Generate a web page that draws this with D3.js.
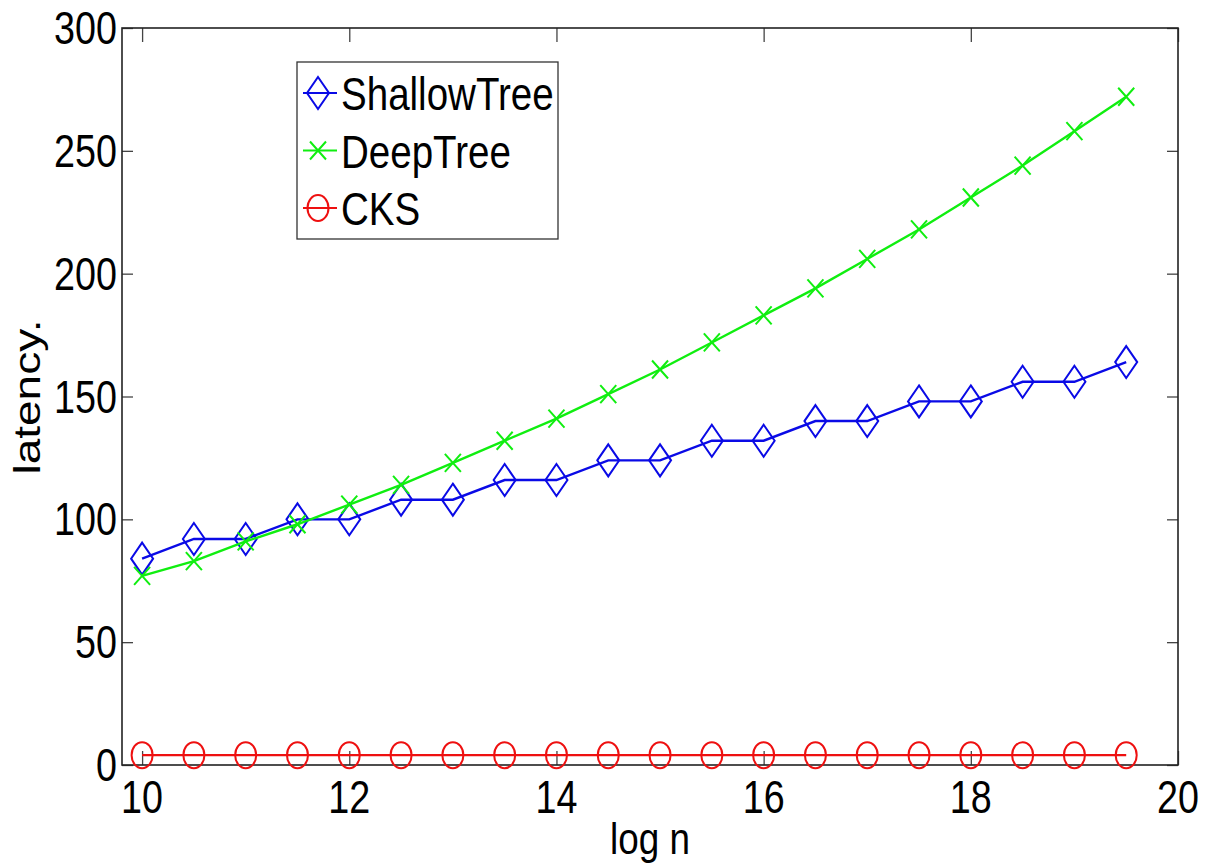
<!DOCTYPE html>
<html>
<head>
<meta charset="utf-8">
<script src="https://cdn.jsdelivr.net/npm/d3@7"></script>
<style>
  html, body { margin: 0; padding: 0; background: #fff; }
  svg { display: block; }
  text { font-family: "Liberation Sans", Arial, Helvetica, sans-serif; fill: #000; }
</style>
</head>
<body>
<svg id="chart" width="1210" height="866"></svg>
<script>
// ---- data ----
const logN = [10, 10.5, 11, 11.5, 12, 12.5, 13, 13.5, 14, 14.5, 15, 15.5, 16, 16.5, 17, 17.5, 18, 18.5, 19, 19.5];
const shallowTree = [84, 92, 92, 100, 100, 108, 108, 116, 116, 124, 124, 132, 132, 140, 140, 148, 148, 156, 156, 164];
const deepTree = [77, 83, 91, 98, 106, 114, 123, 132, 141, 151, 161, 172, 183, 194, 206, 218, 231, 244, 258, 272];
const cks = [4, 4, 4, 4, 4, 4, 4, 4, 4, 4, 4, 4, 4, 4, 4, 4, 4, 4, 4, 4];
const xTicks = [10, 12, 14, 16, 18, 20];
const yTicks = [0, 50, 100, 150, 200, 250, 300];
const seriesNames = ["ShallowTree", "DeepTree", "CKS"];
const seriesColors = ["#0a0ae6", "#10ee10", "#ee1010"];
const seriesMarkers = ["diamond", "x", "circle"];
const xLabel = "log n";
const yLabel = "latency.";

// ---- layout ----
const L = 122, R = 1178, T = 28, B = 765;
const FS = 46, SX = 0.82;
const svg = d3.select("#chart");
const x = d3.scaleLinear().domain([9.806, 20]).range([L, R]);
const y = d3.scaleLinear().domain([0, 300]).range([B, T]);

const series = [shallowTree, deepTree, cks].map((vals, i) => ({
  name: seriesNames[i], color: seriesColors[i], marker: seriesMarkers[i],
  points: logN.map((v, j) => ({ x: v, y: vals[j] }))
}));

// axes box with inward ticks
const axisColor = "#222";
const gx = svg.append("g").attr("transform", `translate(0,${B})`)
  .call(d3.axisBottom(x).tickValues(xTicks).tickSize(-14).tickFormat(""));
const gxt = svg.append("g").attr("transform", `translate(0,${T})`)
  .call(d3.axisTop(x).tickValues(xTicks).tickSize(-14).tickFormat(""));
const gy = svg.append("g").attr("transform", `translate(${L},0)`)
  .call(d3.axisLeft(y).tickValues(yTicks).tickSize(-11).tickFormat(""));
const gyr = svg.append("g").attr("transform", `translate(${R},0)`)
  .call(d3.axisRight(y).tickValues(yTicks).tickSize(-11).tickFormat(""));
[gx, gxt, gy, gyr].forEach(g => {
  g.select(".domain").remove();
  g.selectAll(".tick line").attr("stroke", "#444").attr("stroke-width", 1.3);
});
svg.append("rect").attr("x", L).attr("y", T).attr("width", R - L).attr("height", B - T)
  .attr("fill", "none").attr("stroke", axisColor).attr("stroke-width", 1.6);

// tick labels
xTicks.forEach(t => {
  svg.append("text").attr("transform", `translate(${x(t)},813) scale(${SX},1)`)
    .attr("text-anchor", "middle").attr("font-size", FS).text(t);
});
yTicks.forEach(t => {
  svg.append("text").attr("transform", `translate(117,${y(t) + 16}) scale(${SX},1)`)
    .attr("text-anchor", "end").attr("font-size", FS).text(t);
});

// axis labels
svg.append("text").attr("transform", `translate(${(L + R) / 2},854) scale(${SX},1)`)
  .attr("text-anchor", "middle").attr("font-size", 45).text(xLabel);
svg.append("text").attr("transform", `translate(40,397) scale(${SX},1) rotate(-90)`)
  .attr("text-anchor", "middle").attr("font-size", FS).text(yLabel);

// markers
function drawMarker(g, type, cx, cy, color, big) {
  if (type === "diamond") {
    const hw = 11, hh = 16;
    g.append("path").attr("d", `M${cx},${cy - hh}L${cx + hw},${cy}L${cx},${cy + hh}L${cx - hw},${cy}Z`)
      .attr("fill", "none").attr("stroke", color).attr("stroke-width", 2);
  } else if (type === "x") {
    const hw = 8, hh = 9;
    g.append("path").attr("d", `M${cx - hw},${cy - hh}L${cx + hw},${cy + hh}M${cx - hw},${cy + hh}L${cx + hw},${cy - hh}`)
      .attr("fill", "none").attr("stroke", color).attr("stroke-width", 2);
  } else {
    g.append("ellipse").attr("cx", cx).attr("cy", cy).attr("rx", 10.5).attr("ry", 13)
      .attr("fill", "none").attr("stroke", color).attr("stroke-width", 2);
  }
}

const line = d3.line().x(d => x(d.x)).y(d => y(d.y));
series.forEach(s => {
  const g = svg.append("g");
  g.append("path").datum(s.points).attr("d", line)
    .attr("fill", "none").attr("stroke", s.color).attr("stroke-width", 2.4);
  s.points.forEach(p => drawMarker(g, s.marker, x(p.x), y(p.y), s.color));
});

// legend
const lg = svg.append("g");
lg.append("rect").attr("x", 297).attr("y", 62).attr("width", 261).attr("height", 177)
  .attr("fill", "#fff").attr("stroke", "#333").attr("stroke-width", 1.3);
series.forEach((s, i) => {
  const cy = 93 + i * 57.5;
  lg.append("line").attr("x1", 303).attr("x2", 337).attr("y1", cy).attr("y2", cy)
    .attr("stroke", s.color).attr("stroke-width", 2);
  drawMarker(lg, s.marker, 318, cy, s.color);
  lg.append("text").attr("transform", `translate(341,${cy + 17}) scale(${SX},1)`)
    .attr("font-size", 47).text(s.name);
});
</script>
</body>
</html>
